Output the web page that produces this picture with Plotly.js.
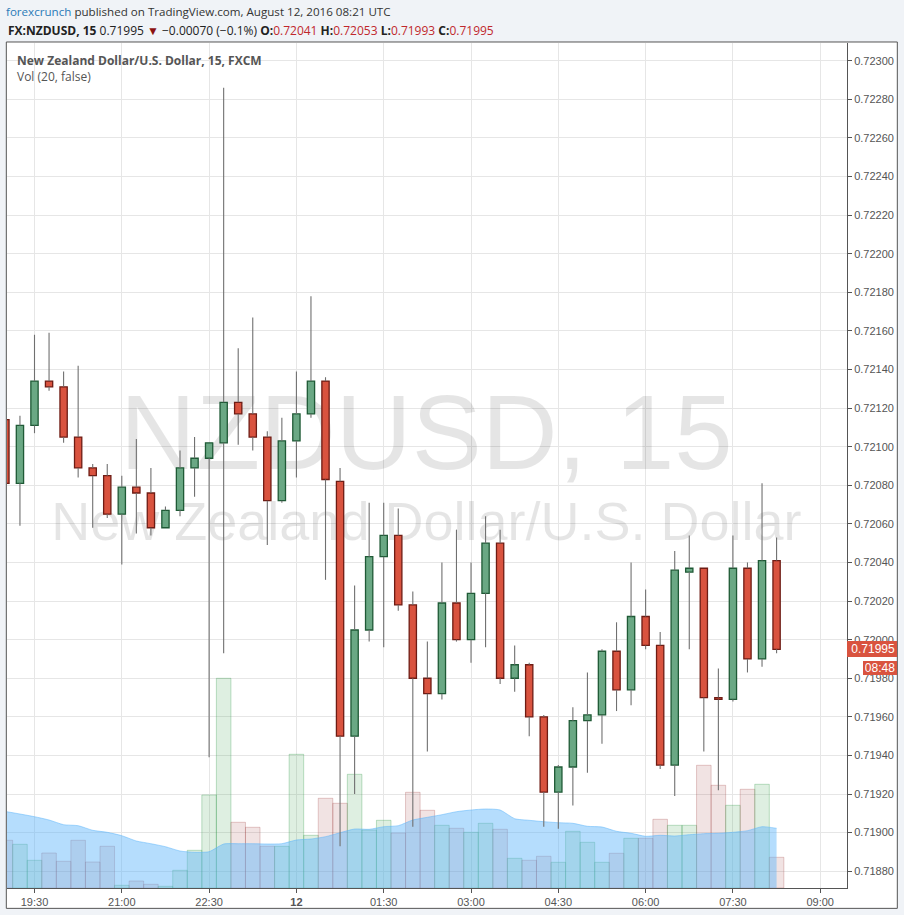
<!DOCTYPE html>
<html>
<head>
<meta charset="utf-8">
<script src="https://cdn.plot.ly/plotly-3.0.1.min.js"></script>
<style>
  html, body { margin: 0; padding: 0; background: #f0f3f7; }
  #chart { width: 904px; height: 915px; }
</style>
</head>
<body>
<div id="chart"></div>
<script>
// ---- Data (15-minute NZD/USD candles, FXCM) ----
const times = [
  '2016-08-11 19:00','2016-08-11 19:15','2016-08-11 19:30','2016-08-11 19:45',
  '2016-08-11 20:00','2016-08-11 20:15','2016-08-11 20:30','2016-08-11 20:45',
  '2016-08-11 21:00','2016-08-11 21:15','2016-08-11 21:30','2016-08-11 21:45',
  '2016-08-11 22:00','2016-08-11 22:15','2016-08-11 22:30','2016-08-11 22:45',
  '2016-08-11 23:00','2016-08-11 23:15','2016-08-11 23:30','2016-08-11 23:45',
  '2016-08-12 00:00','2016-08-12 00:15','2016-08-12 00:30','2016-08-12 00:45',
  '2016-08-12 01:00','2016-08-12 01:15','2016-08-12 01:30','2016-08-12 01:45',
  '2016-08-12 02:00','2016-08-12 02:15','2016-08-12 02:30','2016-08-12 02:45',
  '2016-08-12 03:00','2016-08-12 03:15','2016-08-12 03:30','2016-08-12 03:45',
  '2016-08-12 04:00','2016-08-12 04:15','2016-08-12 04:30','2016-08-12 04:45',
  '2016-08-12 05:00','2016-08-12 05:15','2016-08-12 05:30','2016-08-12 05:45',
  '2016-08-12 06:00','2016-08-12 06:15','2016-08-12 06:30','2016-08-12 06:45',
  '2016-08-12 07:00','2016-08-12 07:15','2016-08-12 07:30','2016-08-12 07:45',
  '2016-08-12 08:00','2016-08-12 08:15'
];
const openP = [
  0.72114,0.72081,0.72111,0.72134,0.72131,0.72105,0.72089,0.72085,0.72065,0.72079,
  0.72076,0.72058,0.72067,0.72089,0.72094,0.72102,0.72123,0.72117,0.72105,0.72072,
  0.72103,0.72117,0.72134,0.72082,0.71950,0.72005,0.72043,0.72054,0.72018,0.71980,
  0.71972,0.72019,0.72000,0.72024,0.72050,0.71980,0.71987,0.71960,0.71921,0.71934,
  0.71958,0.71961,0.71994,0.71974,0.72012,0.71997,0.71935,0.72035,0.72037,0.71970,
  0.71969,0.72037,0.71990,0.72041
];
const highP = [
  0.72115,0.72116,0.72158,0.72159,0.72139,0.72142,0.72091,0.72091,0.72085,0.72104,
  0.72089,0.72069,0.72098,0.72105,0.72102,0.72286,0.72151,0.72167,0.72108,0.72115,
  0.72139,0.72178,0.72136,0.72089,0.72028,0.72071,0.72071,0.72068,0.72025,0.71999,
  0.72040,0.72057,0.72040,0.72064,0.72057,0.71997,0.71988,0.71961,0.71935,0.71965,
  0.71983,0.71995,0.72009,0.72040,0.72026,0.72004,0.72046,0.72054,0.72037,0.71985,
  0.72054,0.72040,0.72081,0.72053
];
const lowP = [
  0.72079,0.72059,0.72107,0.72129,0.72102,0.72084,0.72058,0.72063,0.72039,0.72055,
  0.72054,0.72058,0.72064,0.72074,0.71939,0.71993,0.72101,0.72098,0.72049,0.72071,
  0.72084,0.72115,0.72031,0.71893,0.71920,0.71999,0.71996,0.72015,0.71903,0.71942,
  0.71969,0.71999,0.71988,0.71996,0.71977,0.71973,0.71950,0.71903,0.71902,0.71914,
  0.71931,0.71946,0.71963,0.71966,0.71995,0.71933,0.71919,0.71995,0.71942,0.71922,
  0.71968,0.71983,0.71986,0.71993
];
const closeP = [
  0.72081,0.72111,0.72134,0.72131,0.72105,0.72089,0.72085,0.72065,0.72079,0.72076,
  0.72058,0.72067,0.72089,0.72094,0.72102,0.72123,0.72117,0.72105,0.72072,0.72103,
  0.72117,0.72134,0.72083,0.71950,0.72005,0.72043,0.72054,0.72018,0.71980,0.71972,
  0.72019,0.72000,0.72024,0.72050,0.71980,0.71987,0.71960,0.71921,0.71934,0.71958,
  0.71961,0.71994,0.71974,0.72012,0.71997,0.71935,0.72036,0.72037,0.71970,0.71969,
  0.72037,0.71990,0.72041,0.71995
];
const volume = [
  477,437,277,350,267,477,260,417,27,70,
  37,17,177,377,930,2097,657,607,417,417,
  1337,527,897,847,1137,580,677,550,957,777,
  627,597,557,647,587,297,277,317,257,567,
  457,257,347,497,497,687,627,627,1227,1027,
  827,987,1037,307
];
const volumeMA20 = [
  765,740,713,680,633,623,577,557,523,470,
  443,413,370,357,363,440,443,443,440,443,
  480,490,513,553,590,587,613,623,680,707,
  733,763,780,790,780,693,677,663,653,647,
  617,610,567,547,517,527,520,533,543,547,
  557,573,613,597
];
const tickTimes = ['2016-08-11 19:30','2016-08-11 21:00','2016-08-11 22:30','2016-08-12 00:00',
  '2016-08-12 01:30','2016-08-12 03:00','2016-08-12 04:30','2016-08-12 06:00',
  '2016-08-12 07:30','2016-08-12 09:00'];
const tickLabels = ['19:30','21:00','22:30','<b>12</b>','01:30','03:00','04:30','06:00','07:30','09:00'];

// ---- Styling ----
const UP = '#6aa884', UP_EDGE = '#1f5a36';
const DN = '#d9533f', DN_EDGE = '#6e1c14';
const WICK = '#707070';
const isUp = openP.map((o, i) => closeP[i] >= o);

// ---- Derived traces ----
const bodyBase = openP.map((o, i) => Math.min(o, closeP[i]));
const bodyLen = openP.map((o, i) => Math.max(Math.abs(closeP[i] - o), 0.0000001));
const wx = [], wy = [];
times.forEach((t, i) => {
  const top = Math.max(openP[i], closeP[i]), bot = Math.min(openP[i], closeP[i]);
  if (highP[i] > top) { wx.push(t, t, null); wy.push(highP[i], top, null); }
  if (lowP[i] < bot) { wx.push(t, t, null); wy.push(bot, lowP[i], null); }
});

const traces = [
  { // volume bars
    type: 'bar', x: times, y: volume, xaxis: 'x', yaxis: 'y', width: 900000,
    marker: {
      color: isUp.map(u => u ? 'rgba(60,160,80,0.17)' : 'rgba(160,70,70,0.15)'),
      line: { color: isUp.map(u => u ? 'rgba(60,160,80,0.32)' : 'rgba(160,70,70,0.28)'), width: 1 }
    },
    hoverinfo: 'skip', showlegend: false
  },
  { // volume MA area
    type: 'scatter', mode: 'lines', x: times, y: volumeMA20, xaxis: 'x', yaxis: 'y',
    fill: 'tozeroy', fillcolor: 'rgba(90,180,250,0.45)',
    line: { color: 'rgba(90,180,250,0.5)', width: 1, shape: 'spline', smoothing: 0.6 },
    hoverinfo: 'skip', showlegend: false
  },
  { // watermark
    type: 'scatter', mode: 'text', xaxis: 'x', yaxis: 'y',
    x: ['2016-08-12 02:14', '2016-08-12 02:14'], y: [4450, 3620],
    text: ['NZDUSD, 15', 'New Zealand Dollar/U.S. Dollar'],
    textposition: 'middle center',
    textfont: { family: 'Liberation Sans, Arial, sans-serif', size: [105, 54], color: 'rgba(0,0,0,0.1)' },
    cliponaxis: false, hoverinfo: 'skip', showlegend: false
  },
  { // candle bodies
    type: 'bar', x: times, y: bodyLen, base: bodyBase, xaxis: 'x', yaxis: 'y2', width: 450000,
    marker: { color: isUp.map(u => u ? UP : DN), line: { color: isUp.map(u => u ? UP_EDGE : DN_EDGE), width: 1.3 } },
    hoverinfo: 'skip', showlegend: false
  },
  { // wicks
    type: 'scatter', mode: 'lines', x: wx, y: wy, xaxis: 'x', yaxis: 'y2',
    line: { color: WICK, width: 1.1 }, connectgaps: false, hoverinfo: 'skip', showlegend: false
  }
];

const txt = '#555555';
const layout = {
  width: 904, height: 915, autosize: false,
  margin: { l: 7, r: 57, t: 43, b: 27, pad: 0 },
  paper_bgcolor: '#f0f3f7', plot_bgcolor: 'rgba(0,0,0,0)',
  barmode: 'overlay', showlegend: false,
  font: { family: 'Liberation Sans, Arial, sans-serif', size: 11, color: txt },
  xaxis: {
    type: 'date', range: ['2016-08-11 19:01:39', '2016-08-12 09:27:36'],
    tickvals: tickTimes, ticktext: tickLabels,
    showgrid: true, gridcolor: '#e6e6e6', gridwidth: 1,
    showline: true, linecolor: '#555555', linewidth: 1,
    ticks: 'outside', ticklen: 4, tickcolor: '#555555',
    tickfont: { size: 11, color: '#555555' }, zeroline: false, fixedrange: true
  },
  yaxis: { range: [0, 8450], visible: false, showgrid: false, zeroline: false, fixedrange: true },
  yaxis2: {
    overlaying: 'y', side: 'right', range: [0.718713, 0.723092],
    tick0: 0.7188, dtick: 0.0002, tickformat: '.5f',
    showgrid: true, gridcolor: '#e6e6e6', gridwidth: 1,
    showline: true, linecolor: '#555555', linewidth: 1,
    ticks: 'outside', ticklen: 4, tickcolor: '#555555',
    tickfont: { size: 11, color: '#555555' }, zeroline: false, fixedrange: true
  },
  shapes: [
    { type: 'rect', xref: 'paper', yref: 'paper', x0: -0.0008, x1: 1.0599, y0: -0.0241, y1: 1.0012,
      fillcolor: '#ffffff', line: { color: '#555555', width: 1 }, layer: 'below' }
  ],
  annotations: [
    { xref: 'paper', yref: 'paper', x: -0.0036, y: 1.0367, xanchor: 'left', yanchor: 'middle', showarrow: false,
      text: '<span style="color:#2a7ab8">forexcrunch</span> published on TradingView.com, August 12, 2016 08:21 UTC',
      font: { family: 'Open Sans, sans-serif', size: 11.6, color: '#333333' } },
    { xref: 'paper', yref: 'paper', x: -0.0012, y: 1.0143, xanchor: 'left', yanchor: 'middle', showarrow: false,
      text: '<b>FX:NZDUSD, 15</b> 0.71995 <span style="color:#8b1111">▼</span> −0.00070 (−0.1%) <b>O:</b><span style="color:#c0282d">0.72041</span> <b>H:</b><span style="color:#c0282d">0.72053</span> <b>L:</b><span style="color:#c0282d">0.71993</span> <b>C:</b><span style="color:#c0282d">0.71995</span>',
      font: { family: 'Open Sans, sans-serif', size: 12, color: '#222222' } },
    { xref: 'paper', yref: 'paper', x: 0.0092, y: 0.9787, xanchor: 'left', yanchor: 'middle', showarrow: false,
      text: '<b>New Zealand Dollar/U.S. Dollar, 15, FXCM</b>',
      font: { family: 'Open Sans, sans-serif', size: 12, color: '#555555' } },
    { xref: 'paper', yref: 'paper', x: 0.0092, y: 0.9598, xanchor: 'left', yanchor: 'middle', showarrow: false,
      text: 'Vol (20, false)',
      font: { family: 'Open Sans, sans-serif', size: 12, color: '#555555' } },
    { xref: 'paper', yref: 'y2', x: 1, y: closeP[closeP.length - 1], xanchor: 'left', yanchor: 'middle', showarrow: false,
      text: '0.71995', bgcolor: '#d9533f', width: 46, height: 12, borderpad: 2, borderwidth: 0, align: 'right',
      font: { family: 'Liberation Sans, Arial, sans-serif', size: 12, color: '#ffffff' } },
    { xref: 'paper', yref: 'paper', x: 1.0599, y: 0.2599, xanchor: 'right', yanchor: 'middle', showarrow: false,
      text: '08:48', bgcolor: '#d9533f', width: 30, height: 10, borderpad: 2, borderwidth: 0, align: 'center',
      font: { family: 'Liberation Sans, Arial, sans-serif', size: 12, color: '#ffffff' } }
  ]
};

Plotly.newPlot('chart', traces, layout, { staticPlot: true, displayModeBar: false });
</script>
</body>
</html>
